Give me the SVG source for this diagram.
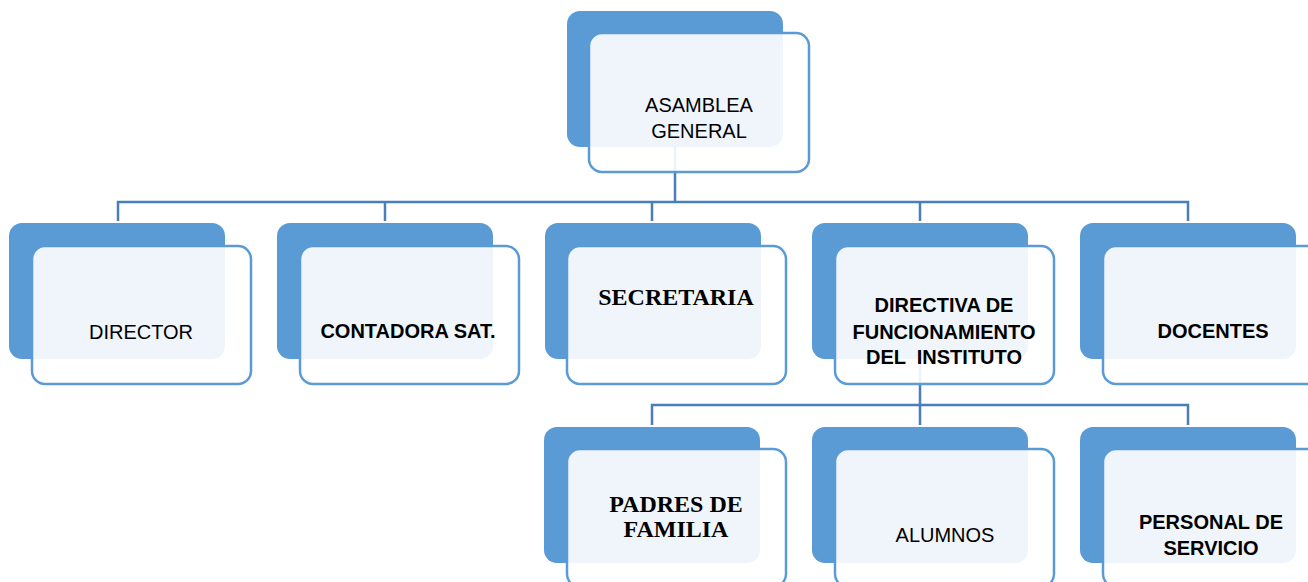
<svg xmlns="http://www.w3.org/2000/svg" width="1308" height="582" viewBox="0 0 1308 582">
<style>
.back{fill:#5B9BD5;}
.front{fill:#FFFFFF;fill-opacity:0.9;stroke:#5B9BD5;stroke-width:2.5;}
.conn{fill:none;stroke:#4A7EBB;stroke-width:2.5;}
.t{font-family:"Liberation Sans",Arial,sans-serif;font-size:20px;fill:#000;text-anchor:middle;}
.b{font-weight:bold;}
.s{font-family:"Liberation Serif","Times New Roman",serif;font-weight:bold;font-size:24px;fill:#000;text-anchor:middle;}
</style>
<rect width="1308" height="582" fill="#FFFFFF"/>
<g id="connectors">
<path class="conn" d="M675,147 V202 M118,221 V202 H1188 V221 M385,202 V221 M652,202 V221 M920,202 V221"/>
<path class="conn" d="M920,359 V405 M652,425 V405 H1188 V425 M920,405 V425"/>
</g>
<g id="asamblea">
<rect class="back" x="567" y="11" width="216" height="136" rx="13"/>
<rect class="front" x="589" y="33" width="220" height="139" rx="13"/>
<text class="t" x="699" y="112">ASAMBLEA</text>
<text class="t" x="699" y="138">GENERAL</text>
</g>
<g id="director">
<rect class="back" x="9" y="223" width="216" height="136" rx="13"/>
<rect class="front" x="32" y="246" width="219" height="138" rx="13"/>
<text class="t" x="141" y="339">DIRECTOR</text>
</g>
<g id="contadora">
<rect class="back" x="277" y="223" width="216" height="136" rx="13"/>
<rect class="front" x="300" y="246" width="219" height="138" rx="13"/>
<text class="t b" x="408" y="338">CONTADORA SAT.</text>
</g>
<g id="secretaria">
<rect class="back" x="545" y="223" width="216" height="136" rx="13"/>
<rect class="front" x="567" y="246" width="219" height="138" rx="13"/>
<text class="s" x="676" y="305">SECRETARIA</text>
</g>
<g id="directiva">
<rect class="back" x="812" y="223" width="216" height="136" rx="13"/>
<rect class="front" x="835" y="246" width="219" height="138" rx="13"/>
<text class="t b" x="944" y="312">DIRECTIVA DE</text>
<text class="t b" x="944" y="339">FUNCIONAMIENTO</text>
<text class="t b" x="944" y="364" xml:space="preserve">DEL  INSTITUTO</text>
</g>
<g id="docentes">
<rect class="back" x="1080" y="223" width="216" height="136" rx="13"/>
<rect class="front" x="1103" y="246" width="219" height="138" rx="13"/>
<text class="t b" x="1213" y="338">DOCENTES</text>
</g>
<g id="padres">
<rect class="back" x="544" y="427" width="216" height="136" rx="13"/>
<rect class="front" x="567" y="449" width="219" height="138" rx="13"/>
<text class="s" x="676" y="512">PADRES DE</text>
<text class="s" x="676" y="537">FAMILIA</text>
</g>
<g id="alumnos">
<rect class="back" x="812" y="427" width="216" height="136" rx="13"/>
<rect class="front" x="835" y="449" width="219" height="138" rx="13"/>
<text class="t" x="945" y="542">ALUMNOS</text>
</g>
<g id="personal">
<rect class="back" x="1080" y="427" width="216" height="136" rx="13"/>
<rect class="front" x="1103" y="449" width="219" height="138" rx="13"/>
<text class="t b" x="1211" y="529">PERSONAL DE</text>
<text class="t b" x="1211" y="555">SERVICIO</text>
</g>
</svg>
